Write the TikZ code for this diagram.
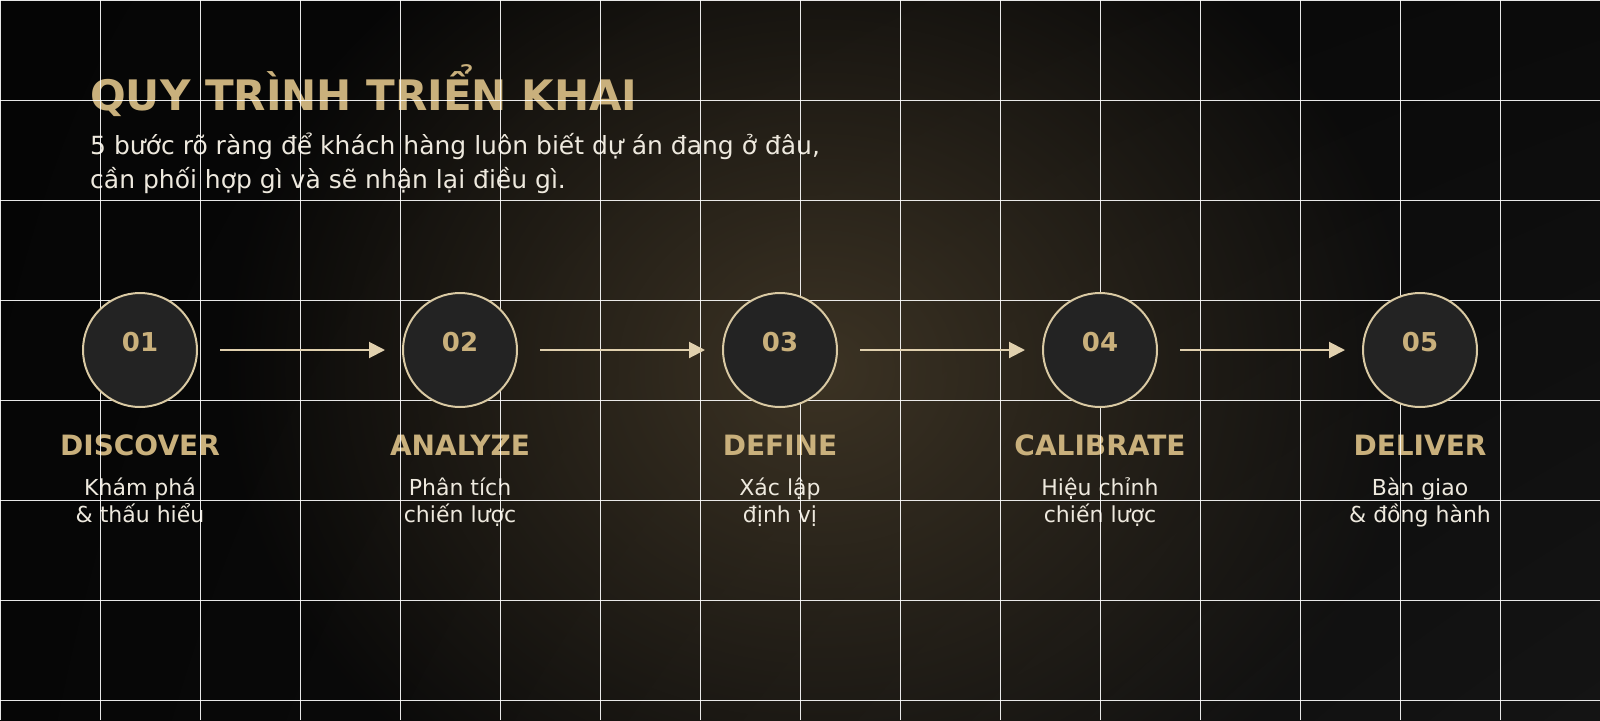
\documentclass[tikz,border=0pt]{standalone}
\usepackage{fontspec}
\setmainfont{DejaVu Sans}
\usetikzlibrary{arrows.meta,fadings,shadings}
\definecolor{gold}{RGB}{201,176,124}
\definecolor{beige}{RGB}{217,201,163}
\definecolor{arrowc}{RGB}{224,208,174}
\definecolor{txt}{RGB}{238,233,222}
\definecolor{circfill}{RGB}{35,35,35}
\definecolor{glow}{RGB}{60,51,36}
\definecolor{bgUL}{RGB}{5,5,5}
\definecolor{bgUR}{RGB}{11,11,11}
\definecolor{bgLL}{RGB}{6,6,6}
\definecolor{bgLR}{RGB}{20,20,20}
\tikzfading[name=glowfade, inner color=transparent!0, outer color=transparent!100]
\begin{document}
\begin{tikzpicture}[x=1pt,y=-1pt,
  stepcircle/.style={circle, draw=beige, line width=2pt, fill=circfill, minimum size=114pt, inner sep=0pt},
  numtxt/.style={text=gold, font=\fontsize{26}{30}\selectfont\bfseries, inner sep=0pt},
  steptitle/.style={text=gold, font=\fontsize{28}{32}\selectfont\bfseries, inner sep=0pt, anchor=base},
  desc/.style={text=txt, font=\fontsize{22}{27.5}\selectfont, align=center, inner sep=0pt, anchor=base},
  flow/.style={draw=arrowc, line width=2pt, -{Triangle[length=16pt,width=16pt]}},
  gridline/.style={white, line width=1pt, opacity=0.9}]
\useasboundingbox (0,0) rectangle (1600,720);
\shade[upper left=bgUL, upper right=bgUR, lower left=bgLL, lower right=bgLR] (0,0) rectangle (1600,720);
\fill[glow, path fading=glowfade] (820,370) ellipse [x radius=600, y radius=520];

% texts
\node[anchor=base west, text=gold, font=\fontsize{42}{50}\selectfont\bfseries, inner sep=0pt] (title) at (90,110) {QUY TRÌNH TRIỂN KHAI};
\node[anchor=base west, text=txt, font=\fontsize{25}{33.5}\selectfont, align=left, inner sep=0pt] (sub) at (90,188) {5 bước rõ ràng để khách hàng luôn biết dự án đang ở đâu,\\cần phối hợp gì và sẽ nhận lại điều gì.};

\node[steptitle] (t1) at (140,455) {DISCOVER};
\node[steptitle] (t2) at (460,455) {ANALYZE};
\node[steptitle] (t3) at (780,455) {DEFINE};
\node[steptitle] (t4) at (1100,455) {CALIBRATE};
\node[steptitle] (t5) at (1420,455) {DELIVER};

\node[desc] (d1) at (140,522.5) {Khám phá\\\& thấu hiểu};
\node[desc] (d2) at (460,522.5) {Phân tích\\chiến lược};
\node[desc] (d3) at (780,522.5) {Xác lập\\định vị};
\node[desc] (d4) at (1100,522.5) {Hiệu chỉnh\\chiến lược};
\node[desc] (d5) at (1420,522.5) {Bàn giao\\\& đồng hành};

% grid
\foreach \gx in {0,100,...,1500} \draw[gridline] (\gx,0) -- (\gx,720);
\foreach \gy in {0,100,...,700} \draw[gridline] (0,\gy) -- (1600,\gy);

% circles
\node[stepcircle] (s1) at (140,350) {};
\node[stepcircle] (s2) at (460,350) {};
\node[stepcircle] (s3) at (780,350) {};
\node[stepcircle] (s4) at (1100,350) {};
\node[stepcircle] (s5) at (1420,350) {};
\node[numtxt] (n1) at ([yshift=8pt]s1.center) {01};
\node[numtxt] (n2) at ([yshift=8pt]s2.center) {02};
\node[numtxt] (n3) at ([yshift=8pt]s3.center) {03};
\node[numtxt] (n4) at ([yshift=8pt]s4.center) {04};
\node[numtxt] (n5) at ([yshift=8pt]s5.center) {05};

% arrows
\draw[flow] ([xshift=22pt]s1.east) -- ([xshift=-17pt]s2.west);
\draw[flow] ([xshift=22pt]s2.east) -- ([xshift=-17pt]s3.west);
\draw[flow] ([xshift=22pt]s3.east) -- ([xshift=-17pt]s4.west);
\draw[flow] ([xshift=22pt]s4.east) -- ([xshift=-17pt]s5.west);
\end{tikzpicture}
\end{document}
